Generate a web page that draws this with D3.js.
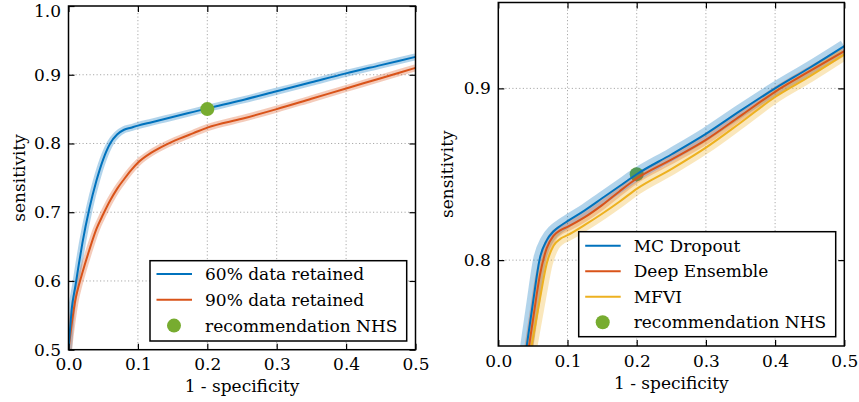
<!DOCTYPE html>
<meta charset="utf-8">
<script src="https://d3js.org/d3.v7.min.js"></script>
<style>
  body { margin: 0; background: white; }
  svg text { font-family: "DejaVu Serif", serif; font-size: 17px; fill: #000; }
</style>
<body>
<div id="chart"></div>
<script>
// ---- data ----
var xTicks = [0, 0.1, 0.2, 0.3, 0.4, 0.5];
var leftYTicks = [0.5, 0.6, 0.7, 0.8, 0.9, 1.0];
var rightYTicks = [0.8, 0.9];

var leftX  = [0, 0.005, 0.01, 0.015, 0.02, 0.03, 0.04, 0.05, 0.06, 0.07, 0.08, 0.09, 0.1, 0.12, 0.14, 0.16, 0.18, 0.2, 0.25, 0.3, 0.35, 0.4, 0.45, 0.5];
var ret60  = [0.5, 0.562, 0.593, 0.625, 0.655, 0.705, 0.745, 0.777, 0.80, 0.813, 0.82, 0.823, 0.826, 0.831, 0.836, 0.841, 0.846, 0.851, 0.863, 0.876, 0.889, 0.902, 0.914, 0.926];
var ret90  = [0.5, 0.54, 0.573, 0.594, 0.612, 0.645, 0.675, 0.697, 0.717, 0.734, 0.748, 0.761, 0.772, 0.787, 0.798, 0.807, 0.815, 0.823, 0.836, 0.850, 0.865, 0.880, 0.895, 0.910];

var rightX       = [0.03, 0.04, 0.05, 0.06, 0.07, 0.08, 0.09, 0.1, 0.125, 0.15, 0.175, 0.2, 0.25, 0.3, 0.35, 0.4, 0.45, 0.5];
var mcDropout    = [0.719, 0.747, 0.775, 0.801, 0.8115, 0.8168, 0.820, 0.8227, 0.829, 0.836, 0.843, 0.850, 0.8615, 0.8735, 0.887, 0.900, 0.912, 0.9246];
var deepEnsemble = [0.711, 0.738, 0.765, 0.791, 0.807, 0.8143, 0.8175, 0.8194, 0.825, 0.832, 0.840, 0.8475, 0.8585, 0.870, 0.884, 0.898, 0.910, 0.9217];
var mfvi         = [0.709, 0.732, 0.7545, 0.777, 0.798, 0.8085, 0.8125, 0.8145, 0.8205, 0.827, 0.834, 0.8415, 0.853, 0.8655, 0.880, 0.895, 0.907, 0.9198];

var nhsPoint = [0.2, 0.85];

var leftLabels  = ["60% data retained", "90% data retained", "recommendation NHS"];
var rightLabels = ["MC Dropout", "Deep Ensemble", "MFVI", "recommendation NHS"];

var blue = "#0072BD", orange = "#D95319", yellow = "#EDB120", green = "#77AC30";

var svg = d3.select("#chart").append("svg")
    .attr("width", 859)
    .attr("height", 402);

var fmt = d3.format(".1f");

function drawPanel(p) {
  var x = d3.scaleLinear().domain([0, 0.5]).range([p.left, p.right]);
  var y = d3.scaleLinear().domain(p.yDomain).range([p.bottom, p.top]);
  var g = svg.append("g");

  g.append("clipPath").attr("id", p.id)
    .append("rect")
      .attr("x", p.left).attr("y", p.top)
      .attr("width", p.right - p.left).attr("height", p.bottom - p.top);

  // dotted grid
  var grid = g.append("g").attr("stroke", "#aaaaaa").attr("stroke-width", 1)
      .attr("stroke-dasharray", "1.2,2.3");
  grid.selectAll("line.v").data(xTicks.slice(1, -1)).enter().append("line")
      .attr("x1", d => x(d)).attr("x2", d => x(d))
      .attr("y1", p.top).attr("y2", p.bottom);
  grid.selectAll("line.h").data(p.yTicks.filter(d => d > p.yDomain[0] && d < p.yDomain[1])).enter().append("line")
      .attr("y1", d => y(d)).attr("y2", d => y(d))
      .attr("x1", p.left).attr("x2", p.right);

  var plot = g.append("g").attr("clip-path", "url(#" + p.id + ")");
  var line = d3.line().x(d => x(d[0])).y(d => y(d[1])).curve(d3.curveMonotoneX);

  function dot() {
    plot.append("circle")
      .attr("cx", x(nhsPoint[0])).attr("cy", y(nhsPoint[1]))
      .attr("r", 7).attr("fill", green);
  }
  if (!p.dotOnTop) dot();

  p.series.forEach(function(s) {
    plot.append("path")
      .datum(p.xs.map((v, i) => [v, s.values[i]]))
      .attr("d", line)
      .attr("fill", "none")
      .attr("stroke", s.color)
      .attr("stroke-opacity", 0.3)
      .attr("stroke-width", s.band);
  });
  p.series.slice().reverse().forEach(function(s) {
    plot.append("path")
      .datum(p.xs.map((v, i) => [v, s.values[i]]))
      .attr("d", line)
      .attr("fill", "none")
      .attr("stroke", s.color)
      .attr("stroke-width", 2);
  });
  if (p.dotOnTop) dot();

  // axes, ticks inward on all sides
  var axB = g.append("g").attr("transform", "translate(0," + p.bottom + ")")
      .call(d3.axisBottom(x).tickValues(xTicks).tickSize(-6).tickPadding(8.5).tickFormat(fmt));
  var axT = g.append("g").attr("transform", "translate(0," + p.top + ")")
      .call(d3.axisTop(x).tickValues(xTicks).tickSize(-6).tickFormat(""));
  var axL = g.append("g").attr("transform", "translate(" + p.left + ",0)")
      .call(d3.axisLeft(y).tickValues(p.yTicks).tickSize(-6).tickPadding(7.5).tickFormat(fmt));
  var axR = g.append("g").attr("transform", "translate(" + p.right + ",0)")
      .call(d3.axisRight(y).tickValues(p.yTicks).tickSize(-6).tickFormat(""));
  [axB, axT, axL, axR].forEach(function(a) {
    a.select(".domain").remove();
    a.attr("font-family", null).attr("font-size", null);
    a.selectAll("line").attr("stroke", "#000").attr("stroke-width", 1.2);
  });
  // top label would run off the page, nudge it down like the reference
  axL.selectAll("text").filter(d => y(d) < 12).attr("dy", "0.62em");

  g.append("rect")
    .attr("x", p.left).attr("y", p.top)
    .attr("width", p.right - p.left).attr("height", p.bottom - p.top)
    .attr("fill", "none").attr("stroke", "#000").attr("stroke-width", 1.5);

  g.append("text")
    .attr("x", (p.left + p.right) / 2).attr("y", p.xLabelY)
    .attr("text-anchor", "middle")
    .text("1 - specificity");
  g.append("text")
    .attr("transform", "translate(" + p.yLabelX + "," + ((p.top + p.bottom) / 2) + ") rotate(-90)")
    .attr("text-anchor", "middle")
    .text("sensitivity");

  // legend
  var L = p.legend;
  var leg = g.append("g");
  leg.append("rect")
    .attr("x", L.x).attr("y", L.y).attr("width", L.w).attr("height", L.h)
    .attr("fill", "white").attr("stroke", "#000").attr("stroke-width", 1.5);
  p.labels.forEach(function(lab, i) {
    var cy = L.y + L.first + i * L.step;
    var s = p.series[i];
    if (s) {
      leg.append("line")
        .attr("x1", L.x + 6.5).attr("x2", L.x + 42)
        .attr("y1", cy).attr("y2", cy)
        .attr("stroke", s.color).attr("stroke-width", 2);
    } else {
      leg.append("circle").attr("cx", L.x + 24).attr("cy", cy).attr("r", 7).attr("fill", green);
    }
    leg.append("text").attr("x", L.x + 55).attr("y", cy + 6).text(lab);
  });
}

drawPanel({
  id: "clipL", left: 68.5, right: 415.5, top: 6, bottom: 349.7,
  yDomain: [0.5, 1.0], yTicks: leftYTicks, xs: leftX,
  series: [
    {values: ret60, color: blue, band: 7},
    {values: ret90, color: orange, band: 7}
  ],
  labels: leftLabels, dotOnTop: true,
  xLabelY: 392, yLabelX: 25,
  legend: {x: 150, y: 260.7, w: 256.7, h: 80.3, first: 13.3, step: 25.8}
});

drawPanel({
  id: "clipR", left: 498.3, right: 844.3, top: 2.5, bottom: 346,
  yDomain: [0.75, 0.95], yTicks: rightYTicks, xs: rightX,
  series: [
    {values: mcDropout, color: blue, band: 13},
    {values: deepEnsemble, color: orange, band: 9},
    {values: mfvi, color: yellow, band: 12}
  ],
  labels: rightLabels, dotOnTop: false,
  xLabelY: 389, yLabelX: 453,
  legend: {x: 578.7, y: 231.7, w: 257, h: 105, first: 14, step: 25.5}
});
</script>
</body>
